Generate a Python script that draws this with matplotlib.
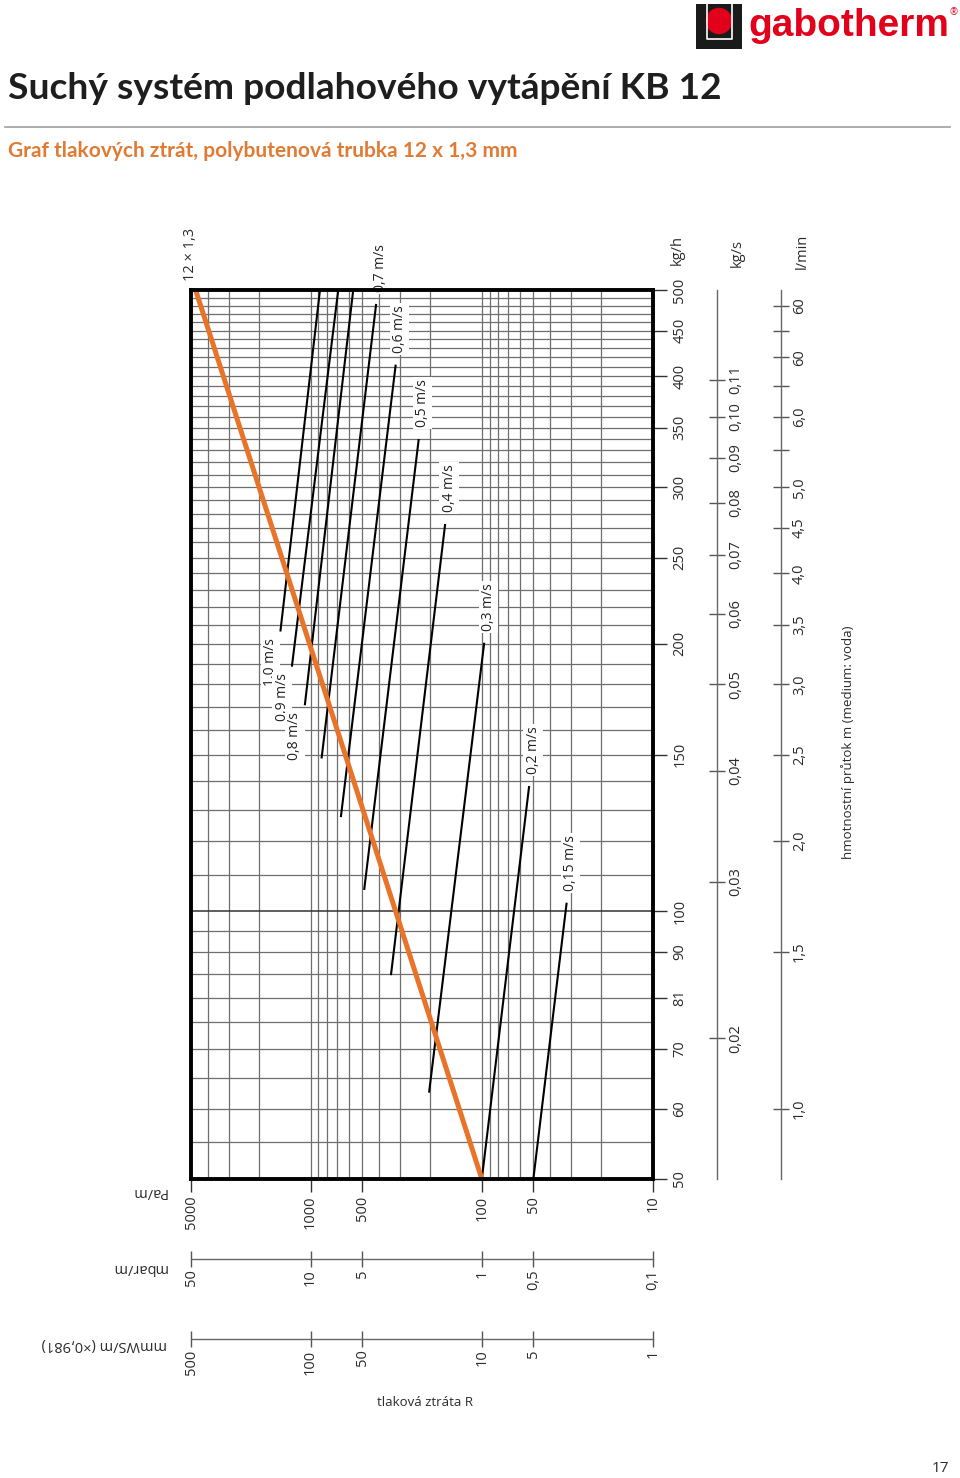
import matplotlib
matplotlib.use("Agg")
import matplotlib.pyplot as plt
from matplotlib.patches import Rectangle, Circle
from matplotlib.lines import Line2D
from matplotlib.ticker import NullLocator

plt.rcParams['font.family'] = ['Open Sans', 'DejaVu Sans']

W, H = 960, 1478

# --- data ---
# tlakova ztrata R (Pa/m) on the horizontal, hmotnostni prutok (kg/h) on the vertical
R_TICKS = [5000, 1000, 500, 100, 50, 10]
R_TICK_LABELS = ['5000', '1000', '500', '100', '50', '10']
MBAR_TICKS = [50, 10, 5, 1, 0.5, 0.1]
MBAR_LABELS = ['50', '10', '5', '1', '0,5', '0,1']
MMWS_TICKS = [500, 100, 50, 10, 5, 1]
MMWS_LABELS = ['500', '100', '50', '10', '5', '1']

KGH_TICKS = [50, 60, 70, 80, 90, 100, 150, 200, 250, 300, 350, 400, 450, 500]
KGH_LABELS = ['50', '60', '70', '81', '90', '100', '150', '200', '250', '300',
              '350', '400', '450', '500']
KGS_TICKS = [0.02, 0.03, 0.04, 0.05, 0.06, 0.07, 0.08, 0.09, 0.10, 0.11]
KGS_LABELS = ['0,02', '0,03', '0,04', '0,05', '0,06', '0,07', '0,08', '0,09',
              '0,10', '0,11']
LMIN_TICKS = [1.0, 1.5, 2.0, 2.5, 3.0, 3.5, 4.0, 4.5, 5.0, 5.5, 6.0, 6.5, 7.0, 7.5, 8.0]
LMIN_LABELS = ['1,0', '1,5', '2,0', '2,5', '3,0', '3,5', '4,0', '4,5', '5,0', '',
               '6,0', '', '60', '', '60']

# trubka 12 x 1,3
PIPE_R = [100, 4700]
PIPE_F = [50, 500]

# rychlostni primky: start (nizky prutok) a konec
VEL_LABELS = ['1,0 m/s', '0,9 m/s', '0,8 m/s', '0,7 m/s', '0,6 m/s',
              '0,5 m/s', '0,4 m/s', '0,3 m/s', '0,2 m/s', '0,15 m/s']
VEL_R0 = [1500, 1285, 1080, 862, 665, 486, 339, 203, 100, 50]
VEL_F0 = [207, 189, 171, 149, 128, 106, 85, 62.7, 50, 50]
VEL_R1 = [882, 690, 564, 415, 319, 234, 164, 97, 53, 32]
VEL_F1 = [500, 500, 500, 481, 411, 339, 272, 200, 138, 102]

R_GRID = [k * 10 ** e for e in (1, 2, 3) for k in range(1, 10) if k * 10 ** e <= 5000]
F_GRID = list(range(55, 100, 5)) + list(range(100, 500, 10))


def fy(py):
    return 1 - py / H


TXT = '#2b2b2b'
ORANGE = '#e8742a'
GRID = '#6e6e6e'

fig = plt.figure(figsize=(W / 100, H / 100), dpi=100)

# hlavicka
fig.text(8 / W, fy(99), 'Suchý systém podlahového vytápění KB 12', fontsize=26.7,
         fontweight='bold', family='Lato', color='#1e1e1e', va='baseline')
fig.add_artist(Line2D([5 / W, 950 / W], [fy(127), fy(127)], color='#a0a0a0', lw=1.2))
fig.text(8 / W, fy(157), 'Graf tlakových ztrát, polybutenová trubka 12 x 1,3 mm',
         fontsize=15, fontweight='bold', family='Lato', color='#e07b33', va='baseline')

# logo
lax = fig.add_axes([696 / W, fy(49), 46 / W, 45 / H])
lax.set_xlim(0, 46)
lax.set_ylim(0, 45)
lax.axis('off')
lax.add_patch(Rectangle((0, 0), 46, 45, color='#1a1a1a'))
lax.plot([10.5, 10.5, 35.5, 35.5], [45, 10.5, 10.5, 45], color='white', lw=1.2)
lax.add_patch(Circle((23, 28), 12.5, color='#e2001a'))
fig.text(748 / W, fy(36), 'gabotherm', fontsize=28, fontweight='bold',
         family='Liberation Sans', color='#e2001a', va='baseline')
fig.text(949 / W, fy(13), '®', fontsize=7, color='#e2001a', va='center')

# graf
ax = fig.add_axes([191 / W, fy(1179), 462 / W, 889 / H])
ax.set_xscale('log')
ax.set_yscale('log')
ax.set_xlim(5000, 10)
ax.set_ylim(50, 500)

for r in R_GRID:
    ax.axvline(r, color=GRID, lw=0.9, zorder=1)
for f in F_GRID:
    ax.axhline(f, color='#333333' if f == 100 else GRID,
               lw=1.1 if f == 100 else 0.9, zorder=1)

ax.plot(PIPE_R, PIPE_F, color=ORANGE, lw=3.6, solid_capstyle='butt', zorder=4)
ax.annotate('12 × 1,3', xy=(PIPE_R[1], PIPE_F[1]), xytext=(-5, 9),
            textcoords='offset pixels', rotation=90, rotation_mode='anchor',
            ha='left', va='center', fontsize=10.5, color=TXT, annotation_clip=False)

for lbl, r0, f0, r1, f1 in zip(VEL_LABELS, VEL_R0, VEL_F0, VEL_R1, VEL_F1):
    ax.plot([r0, r1], [f0, f1], color='black', lw=1.5, zorder=3)
    box = dict(fc='white', ec='none', pad=1.5)
    if f1 >= 500:
        ax.annotate(lbl, xy=(r0, f0), xytext=(-10, -8), textcoords='offset pixels',
                    rotation=90, rotation_mode='anchor', ha='right', va='center',
                    fontsize=10, color='#222222', bbox=box, zorder=5)
    else:
        ax.annotate(lbl, xy=(r1, f1), xytext=(4, 13), textcoords='offset pixels',
                    rotation=90, rotation_mode='anchor', ha='left', va='center',
                    fontsize=10, color='#222222', bbox=box, zorder=5,
                    annotation_clip=False)

for s in ax.spines.values():
    s.set_linewidth(2.8)
    s.set_color('black')
    s.set_zorder(6)

ax.set_xticks(R_TICKS, labels=R_TICK_LABELS)
ax.xaxis.set_minor_locator(NullLocator())
ax.tick_params(axis='x', direction='out', length=9, width=1, color='#333333',
               pad=3, labelsize=10.5, labelcolor=TXT, labelrotation=90)
ax.yaxis.tick_right()
ax.set_yticks(KGH_TICKS, labels=KGH_LABELS)
ax.yaxis.set_minor_locator(NullLocator())
ax.tick_params(axis='y', direction='out', length=10, width=1, color='#333333',
               pad=4, labelsize=10.5, labelcolor=TXT, labelrotation=90)
for t in ax.get_yticklabels():
    t.set_va('center')

# vedlejsi stupnice
sec_mbar = ax.secondary_xaxis(-0.09, functions=(lambda r: r / 100, lambda m: m * 100))
sec_mmws = ax.secondary_xaxis(-0.18, functions=(lambda r: r / 10, lambda m: m * 10))
for sec, ticks, labels in [(sec_mbar, MBAR_TICKS, MBAR_LABELS),
                           (sec_mmws, MMWS_TICKS, MMWS_LABELS)]:
    sec.set_xticks(ticks, labels=labels)
    sec.xaxis.set_minor_locator(NullLocator())
    sec.tick_params(direction='inout', length=11, width=1, color='#555555', pad=2,
                    labelsize=10.5, labelcolor=TXT, labelrotation=90)
    sec.spines['bottom'].set_color('#666666')
    sec.spines['bottom'].set_linewidth(1)

sec_kgs = ax.secondary_yaxis(526 / 462, functions=(lambda f: f / 3600, lambda k: k * 3600))
sec_lmin = ax.secondary_yaxis(590 / 462, functions=(lambda f: f / 60, lambda l: l * 60))
for sec, ticks, labels in [(sec_kgs, KGS_TICKS, KGS_LABELS),
                           (sec_lmin, LMIN_TICKS, LMIN_LABELS)]:
    sec.set_yticks(ticks, labels=labels)
    sec.yaxis.set_minor_locator(NullLocator())
    sec.tick_params(direction='inout', length=12, width=1, color='#555555', pad=2,
                    labelsize=10.5, labelcolor=TXT, labelrotation=90)
    for t in sec.get_yticklabels():
        t.set_va('center')
    sec.spines['right'].set_color('#666666')
    sec.spines['right'].set_linewidth(1)

# popisky
fig.text(677 / W, fy(250), 'kg/h', rotation=90, ha='center', va='center',
         fontsize=10.5, color=TXT)
fig.text(737 / W, fy(253), 'kg/s', rotation=90, ha='center', va='center',
         fontsize=10.5, color=TXT)
fig.text(802 / W, fy(251), 'l/min', rotation=90, ha='center', va='center',
         fontsize=10.5, color=TXT)
fig.text(848 / W, fy(742), 'hmotnostní průtok m (medium: voda)', rotation=90,
         ha='center', va='center', fontsize=9.5, color=TXT)
fig.text(167 / W, fy(1192), 'Pa/m', rotation=180, ha='right', va='center',
         fontsize=10.5, color=TXT)
fig.text(167 / W, fy(1268), 'mbar/m', rotation=180, ha='right', va='center',
         fontsize=10.5, color=TXT)
fig.text(167 / W, fy(1345), 'mmWS/m (×0,981)', rotation=180, ha='right', va='center',
         fontsize=10.5, color=TXT)
fig.text(425 / W, fy(1403), 'tlaková ztráta R', ha='center', va='center',
         fontsize=9.5, color=TXT)
fig.text(940 / W, fy(1468), '17', ha='center', va='center', fontsize=11, color=TXT)

fig.savefig('out.png', dpi=100)
